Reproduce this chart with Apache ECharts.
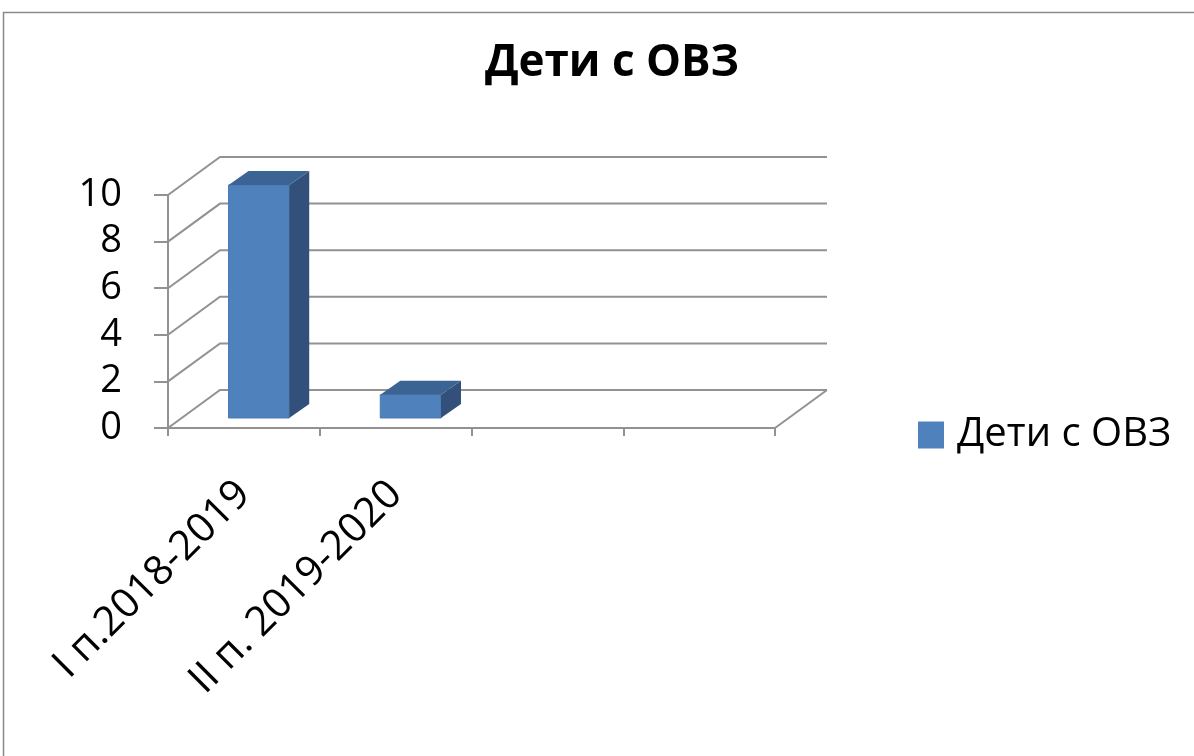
<!DOCTYPE html>
<html>
<head>
<meta charset="utf-8">
<title>Дети с ОВЗ</title>
<script src="https://cdn.jsdelivr.net/npm/echarts@6/dist/echarts.min.js"></script>
<style>
html, body { margin: 0; padding: 0; background: #fff; }
#main { width: 1194px; height: 756px; }
</style>
</head>
<body>
<div id="main"></div>
<script>
// данные диаграммы
var categories = ['I п.2018-2019', 'II п. 2019-2020', '', ''];
var seriesName = 'Дети с ОВЗ';
var values = [10, 1];
var yTicks = [0, 2, 4, 6, 8, 10];

var FONT = 'Open Sans';
var GRID_COLOR = '#929292';
// сдвиг задней стенки (псевдо 3D)
var DEPTH_X = 52, DEPTH_Y = -38;

var wallData = [];
for (var i = 0; i < yTicks.length; i++) {
	wallData.push([0, yTicks[i]]);
}
var barData = [];
for (var j = 0; j < values.length; j++) {
	barData.push([j, values[j]]);
}

// задняя стенка и пол
function renderWall(params, api) {
	var cs = params.coordSys;
	var v = api.value(1);
	var y = api.coord([0, v])[1];
	var left = cs.x, right = cs.x + cs.width;
	var style = { stroke: GRID_COLOR, lineWidth: 2, fill: null };
	var children = [{
		type: 'polyline',
		shape: { points: [[left, y], [left + DEPTH_X, y + DEPTH_Y], [right + DEPTH_X, y + DEPTH_Y]] },
		style: style
	}];
	if (v === 0) {
		children.push({
			type: 'line',
			shape: { x1: right, y1: y, x2: right + DEPTH_X, y2: y + DEPTH_Y },
			style: style
		});
	}
	return { type: 'group', children: children };
}

// столбик с боковой и верхней гранью
function renderBar(params, api) {
	var idx = api.value(0);
	var base = api.coord([idx, 0]);
	var top = api.coord([idx, api.value(1)]);
	var w = api.size([1, 0])[0] * 0.4;
	var x0 = base[0] - w / 2 + 15, x1 = x0 + w;
	var yb = base[1] - 10, yt = top[1] - 10;
	var sx = 20, sy = -14;
	return {
		type: 'group',
		children: [{
			type: 'rect',
			shape: { x: x0, y: yt, width: w, height: yb - yt },
			style: { fill: '#4f81bd', stroke: '#4a7ab3', lineWidth: 1 }
		}, {
			type: 'polygon',
			shape: { points: [[x1, yt], [x1 + sx, yt + sy], [x1 + sx, yb + sy], [x1, yb]] },
			style: { fill: '#33507a' }
		}, {
			type: 'polygon',
			shape: { points: [[x0, yt], [x0 + sx, yt + sy], [x1 + sx, yt + sy], [x1, yt]] },
			style: { fill: '#3b6494' }
		}]
	};
}

var option = {
	backgroundColor: '#fff',
	animation: false,
	graphic: [{
		type: 'rect',
		shape: { x: 3.5, y: 12.5, width: 2000, height: 2000 },
		style: { fill: null, stroke: '#8a8a8a', lineWidth: 1.5 },
		silent: true
	}],
	title: {
		text: seriesName,
		left: 607,
		textAlign: 'center',
		top: 36,
		textStyle: { fontFamily: FONT, fontSize: 44, fontWeight: 'bold', color: '#000' }
	},
	legend: {
		data: [{ name: seriesName, icon: 'rect' }],
		left: 913,
		top: 410,
		itemWidth: 26,
		itemHeight: 27,
		itemGap: 10,
		textStyle: { fontFamily: FONT, fontSize: 40, color: '#000', padding: [0, 0, 0, 8] }
	},
	grid: {
		left: 168,
		right: 419,
		top: 195,
		bottom: 328
	},
	xAxis: {
		type: 'category',
		data: categories,
		axisLine: { lineStyle: { color: GRID_COLOR, width: 2 } },
		axisTick: { show: true, length: 8, lineStyle: { color: GRID_COLOR, width: 2 } },
		axisLabel: {
			interval: 0,
			rotate: 45,
			margin: 60,
			fontFamily: FONT,
			fontSize: 41,
			color: '#000'
		},
		splitLine: { show: false }
	},
	yAxis: {
		type: 'value',
		min: 0,
		max: 10,
		interval: 2,
		axisLine: { show: true, lineStyle: { color: GRID_COLOR, width: 2 } },
		axisTick: { show: true, length: 14, lineStyle: { color: GRID_COLOR, width: 2 } },
		axisLabel: { margin: 46, fontFamily: FONT, fontSize: 38, color: '#000' },
		splitLine: { show: false }
	},
	series: [{
		name: 'wall',
		type: 'custom',
		renderItem: renderWall,
		data: wallData,
		encode: { x: 0, y: 1 },
		silent: true,
		z: 1
	}, {
		name: seriesName,
		type: 'custom',
		renderItem: renderBar,
		data: barData,
		encode: { x: 0, y: 1 },
		itemStyle: { color: '#4f81bd' },
		z: 3
	}]
};

var myChart = echarts.init(document.getElementById('main'));
myChart.setOption(option);
</script>
</body>
</html>
